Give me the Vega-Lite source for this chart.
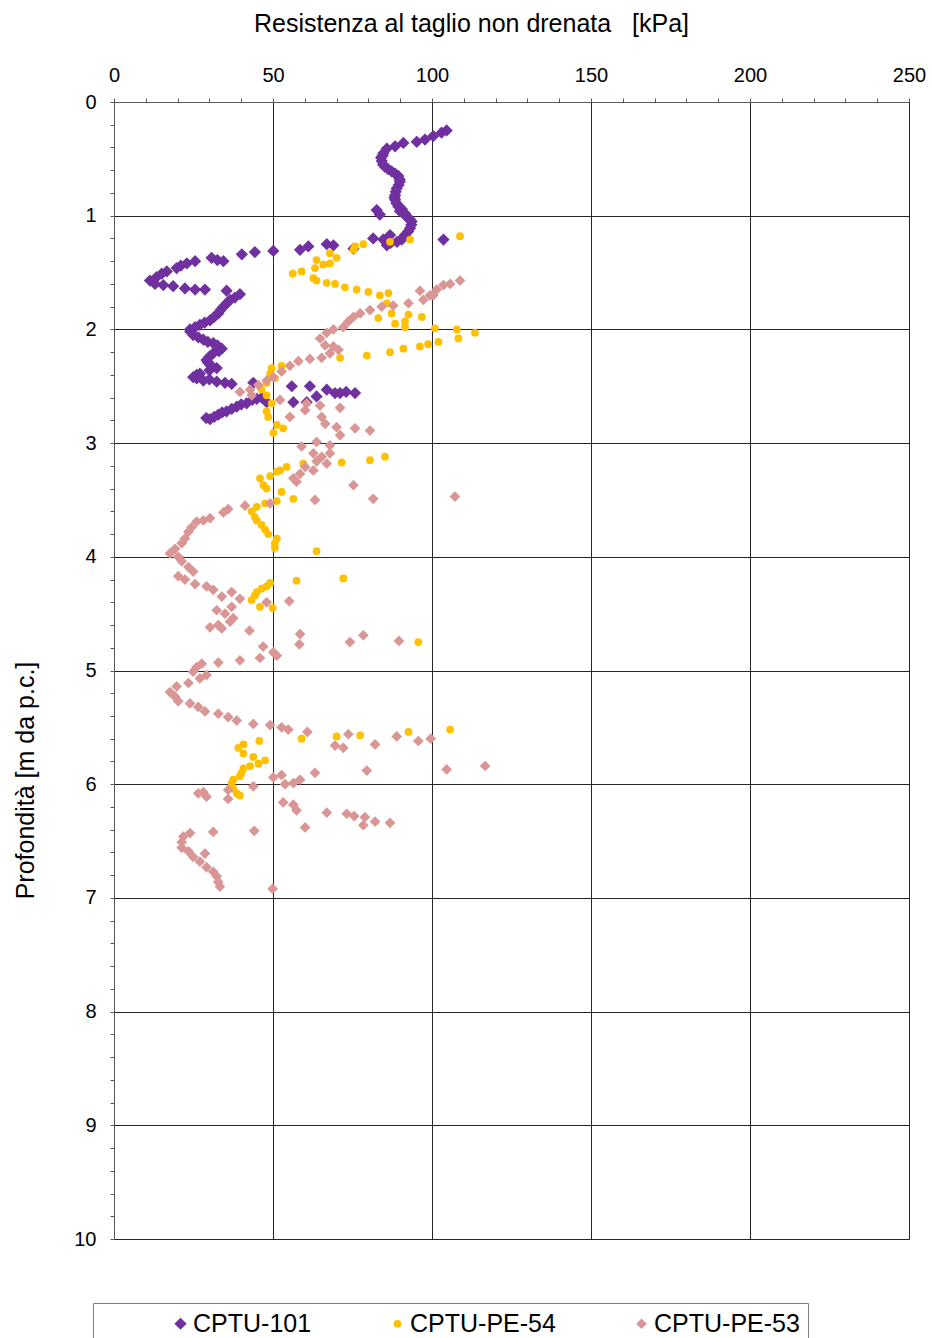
{
  "$schema": "https://vega.github.io/schema/vega-lite/v6.json",
  "width": 795,
  "height": 1137,
  "autosize": {"type": "none"},
  "padding": {"left": 114, "top": 102, "right": 23, "bottom": 99},
  "background": "white",
  "config": {
    "font": "Liberation Sans",
    "view": {"stroke": null},
    "legend": {
      "orient": "none",
      "legendX": -21,
      "legendY": 1201,
      "direction": "horizontal",
      "titleOrient": "left",
      "titlePadding": 67,
      "titleFontSize": 25,
      "padding": 8,
      "strokeColor": "#7f7f7f",
      "strokeWidth": 1,
      "labelFontSize": 25,
      "labelColor": "#000000",
      "labelOffset": 0,
      "columnPadding": 73,
      "labelLimit": 400,
      "labelExpr": "datum.value == 'CPTU-PE-53' ? 'CPTU-PE-53\u2003\u2003\u2002' : datum.label"
    }
  },
  "data": {
    "values": [
      {"s": "CPTU-101", "cu": 104.6, "z": 0.25},
      {"s": "CPTU-101", "cu": 103.0, "z": 0.27},
      {"s": "CPTU-101", "cu": 100.4, "z": 0.30},
      {"s": "CPTU-101", "cu": 97.8, "z": 0.33},
      {"s": "CPTU-101", "cu": 95.2, "z": 0.35},
      {"s": "CPTU-101", "cu": 91.0, "z": 0.36},
      {"s": "CPTU-101", "cu": 88.4, "z": 0.39},
      {"s": "CPTU-101", "cu": 85.8, "z": 0.41},
      {"s": "CPTU-101", "cu": 84.7, "z": 0.45},
      {"s": "CPTU-101", "cu": 84.5, "z": 0.47},
      {"s": "CPTU-101", "cu": 84.0, "z": 0.49},
      {"s": "CPTU-101", "cu": 84.2, "z": 0.52},
      {"s": "CPTU-101", "cu": 84.6, "z": 0.55},
      {"s": "CPTU-101", "cu": 85.2, "z": 0.57},
      {"s": "CPTU-101", "cu": 86.2, "z": 0.59},
      {"s": "CPTU-101", "cu": 87.3, "z": 0.61},
      {"s": "CPTU-101", "cu": 88.4, "z": 0.63},
      {"s": "CPTU-101", "cu": 89.4, "z": 0.65},
      {"s": "CPTU-101", "cu": 89.8, "z": 0.68},
      {"s": "CPTU-101", "cu": 89.9, "z": 0.70},
      {"s": "CPTU-101", "cu": 89.5, "z": 0.73},
      {"s": "CPTU-101", "cu": 88.9, "z": 0.76},
      {"s": "CPTU-101", "cu": 88.6, "z": 0.79},
      {"s": "CPTU-101", "cu": 88.4, "z": 0.82},
      {"s": "CPTU-101", "cu": 88.2, "z": 0.84},
      {"s": "CPTU-101", "cu": 88.4, "z": 0.86},
      {"s": "CPTU-101", "cu": 88.8, "z": 0.89},
      {"s": "CPTU-101", "cu": 89.4, "z": 0.92},
      {"s": "CPTU-101", "cu": 90.5, "z": 0.94},
      {"s": "CPTU-101", "cu": 82.6, "z": 0.95},
      {"s": "CPTU-101", "cu": 83.6, "z": 0.99},
      {"s": "CPTU-101", "cu": 89.9, "z": 0.96},
      {"s": "CPTU-101", "cu": 91.5, "z": 0.98},
      {"s": "CPTU-101", "cu": 92.0, "z": 1.01},
      {"s": "CPTU-101", "cu": 93.0, "z": 1.03},
      {"s": "CPTU-101", "cu": 93.6, "z": 1.05},
      {"s": "CPTU-101", "cu": 93.5, "z": 1.08},
      {"s": "CPTU-101", "cu": 93.1, "z": 1.11},
      {"s": "CPTU-101", "cu": 92.5, "z": 1.14},
      {"s": "CPTU-101", "cu": 91.5, "z": 1.17},
      {"s": "CPTU-101", "cu": 91.0, "z": 1.19},
      {"s": "CPTU-101", "cu": 90.5, "z": 1.21},
      {"s": "CPTU-101", "cu": 89.0, "z": 1.23},
      {"s": "CPTU-101", "cu": 87.0, "z": 1.24},
      {"s": "CPTU-101", "cu": 86.8, "z": 1.17},
      {"s": "CPTU-101", "cu": 84.7, "z": 1.21},
      {"s": "CPTU-101", "cu": 85.8, "z": 1.26},
      {"s": "CPTU-101", "cu": 81.5, "z": 1.20},
      {"s": "CPTU-101", "cu": 103.6, "z": 1.21},
      {"s": "CPTU-101", "cu": 75.3, "z": 1.29},
      {"s": "CPTU-101", "cu": 69.0, "z": 1.26},
      {"s": "CPTU-101", "cu": 66.9, "z": 1.25},
      {"s": "CPTU-101", "cu": 61.1, "z": 1.27},
      {"s": "CPTU-101", "cu": 58.5, "z": 1.30},
      {"s": "CPTU-101", "cu": 50.1, "z": 1.31},
      {"s": "CPTU-101", "cu": 44.3, "z": 1.32},
      {"s": "CPTU-101", "cu": 40.2, "z": 1.34},
      {"s": "CPTU-101", "cu": 34.4, "z": 1.40},
      {"s": "CPTU-101", "cu": 30.7, "z": 1.37},
      {"s": "CPTU-101", "cu": 32.5, "z": 1.39},
      {"s": "CPTU-101", "cu": 25.5, "z": 1.40},
      {"s": "CPTU-101", "cu": 22.9, "z": 1.42},
      {"s": "CPTU-101", "cu": 21.0, "z": 1.44},
      {"s": "CPTU-101", "cu": 19.7, "z": 1.46},
      {"s": "CPTU-101", "cu": 16.6, "z": 1.49},
      {"s": "CPTU-101", "cu": 15.0, "z": 1.51},
      {"s": "CPTU-101", "cu": 13.4, "z": 1.54},
      {"s": "CPTU-101", "cu": 11.3, "z": 1.57},
      {"s": "CPTU-101", "cu": 12.9, "z": 1.60},
      {"s": "CPTU-101", "cu": 15.5, "z": 1.61},
      {"s": "CPTU-101", "cu": 18.6, "z": 1.62},
      {"s": "CPTU-101", "cu": 22.3, "z": 1.64},
      {"s": "CPTU-101", "cu": 25.5, "z": 1.65},
      {"s": "CPTU-101", "cu": 28.6, "z": 1.65},
      {"s": "CPTU-101", "cu": 35.4, "z": 1.66},
      {"s": "CPTU-101", "cu": 39.6, "z": 1.69},
      {"s": "CPTU-101", "cu": 38.0, "z": 1.72},
      {"s": "CPTU-101", "cu": 36.5, "z": 1.74},
      {"s": "CPTU-101", "cu": 35.5, "z": 1.77},
      {"s": "CPTU-101", "cu": 34.4, "z": 1.80},
      {"s": "CPTU-101", "cu": 33.5, "z": 1.83},
      {"s": "CPTU-101", "cu": 32.8, "z": 1.86},
      {"s": "CPTU-101", "cu": 31.5, "z": 1.89},
      {"s": "CPTU-101", "cu": 30.2, "z": 1.92},
      {"s": "CPTU-101", "cu": 28.5, "z": 1.94},
      {"s": "CPTU-101", "cu": 27.0, "z": 1.96},
      {"s": "CPTU-101", "cu": 25.5, "z": 1.98},
      {"s": "CPTU-101", "cu": 23.9, "z": 2.00},
      {"s": "CPTU-101", "cu": 24.0, "z": 2.02},
      {"s": "CPTU-101", "cu": 24.9, "z": 2.05},
      {"s": "CPTU-101", "cu": 26.5, "z": 2.07},
      {"s": "CPTU-101", "cu": 28.1, "z": 2.09},
      {"s": "CPTU-101", "cu": 29.5, "z": 2.11},
      {"s": "CPTU-101", "cu": 31.2, "z": 2.12},
      {"s": "CPTU-101", "cu": 32.5, "z": 2.14},
      {"s": "CPTU-101", "cu": 33.9, "z": 2.17},
      {"s": "CPTU-101", "cu": 33.0, "z": 2.19},
      {"s": "CPTU-101", "cu": 31.2, "z": 2.21},
      {"s": "CPTU-101", "cu": 30.0, "z": 2.24},
      {"s": "CPTU-101", "cu": 29.1, "z": 2.27},
      {"s": "CPTU-101", "cu": 29.5, "z": 2.29},
      {"s": "CPTU-101", "cu": 30.2, "z": 2.31},
      {"s": "CPTU-101", "cu": 31.0, "z": 2.33},
      {"s": "CPTU-101", "cu": 32.3, "z": 2.34},
      {"s": "CPTU-101", "cu": 30.0, "z": 2.36},
      {"s": "CPTU-101", "cu": 27.0, "z": 2.39},
      {"s": "CPTU-101", "cu": 26.0, "z": 2.40},
      {"s": "CPTU-101", "cu": 24.9, "z": 2.42},
      {"s": "CPTU-101", "cu": 26.0, "z": 2.43},
      {"s": "CPTU-101", "cu": 30.0, "z": 2.44},
      {"s": "CPTU-101", "cu": 28.1, "z": 2.45},
      {"s": "CPTU-101", "cu": 32.3, "z": 2.46},
      {"s": "CPTU-101", "cu": 34.9, "z": 2.47},
      {"s": "CPTU-101", "cu": 37.0, "z": 2.48},
      {"s": "CPTU-101", "cu": 43.8, "z": 2.47},
      {"s": "CPTU-101", "cu": 55.9, "z": 2.50},
      {"s": "CPTU-101", "cu": 61.6, "z": 2.50},
      {"s": "CPTU-101", "cu": 63.7, "z": 2.59},
      {"s": "CPTU-101", "cu": 56.4, "z": 2.64},
      {"s": "CPTU-101", "cu": 60.6, "z": 2.64},
      {"s": "CPTU-101", "cu": 66.9, "z": 2.53},
      {"s": "CPTU-101", "cu": 69.5, "z": 2.56},
      {"s": "CPTU-101", "cu": 71.1, "z": 2.56},
      {"s": "CPTU-101", "cu": 73.0, "z": 2.55},
      {"s": "CPTU-101", "cu": 75.8, "z": 2.56},
      {"s": "CPTU-101", "cu": 48.0, "z": 2.64},
      {"s": "CPTU-101", "cu": 46.5, "z": 2.60},
      {"s": "CPTU-101", "cu": 44.9, "z": 2.61},
      {"s": "CPTU-101", "cu": 43.5, "z": 2.62},
      {"s": "CPTU-101", "cu": 41.7, "z": 2.65},
      {"s": "CPTU-101", "cu": 40.0, "z": 2.66},
      {"s": "CPTU-101", "cu": 38.6, "z": 2.68},
      {"s": "CPTU-101", "cu": 37.0, "z": 2.70},
      {"s": "CPTU-101", "cu": 35.4, "z": 2.72},
      {"s": "CPTU-101", "cu": 34.0, "z": 2.73},
      {"s": "CPTU-101", "cu": 32.8, "z": 2.75},
      {"s": "CPTU-101", "cu": 31.5, "z": 2.77},
      {"s": "CPTU-101", "cu": 30.2, "z": 2.79},
      {"s": "CPTU-101", "cu": 29.0, "z": 2.78},

      {"s": "CPTU-PE-54", "cu": 108.8, "z": 1.18},
      {"s": "CPTU-PE-54", "cu": 93.1, "z": 1.21},
      {"s": "CPTU-PE-54", "cu": 86.8, "z": 1.23},
      {"s": "CPTU-PE-54", "cu": 78.4, "z": 1.25},
      {"s": "CPTU-PE-54", "cu": 75.8, "z": 1.27},
      {"s": "CPTU-PE-54", "cu": 75.3, "z": 1.30},
      {"s": "CPTU-PE-54", "cu": 67.9, "z": 1.33},
      {"s": "CPTU-PE-54", "cu": 70.0, "z": 1.37},
      {"s": "CPTU-PE-54", "cu": 63.7, "z": 1.39},
      {"s": "CPTU-PE-54", "cu": 67.9, "z": 1.42},
      {"s": "CPTU-PE-54", "cu": 65.8, "z": 1.43},
      {"s": "CPTU-PE-54", "cu": 63.2, "z": 1.46},
      {"s": "CPTU-PE-54", "cu": 59.0, "z": 1.49},
      {"s": "CPTU-PE-54", "cu": 56.2, "z": 1.51},
      {"s": "CPTU-PE-54", "cu": 62.7, "z": 1.55},
      {"s": "CPTU-PE-54", "cu": 63.7, "z": 1.57},
      {"s": "CPTU-PE-54", "cu": 66.9, "z": 1.59},
      {"s": "CPTU-PE-54", "cu": 69.5, "z": 1.60},
      {"s": "CPTU-PE-54", "cu": 72.6, "z": 1.63},
      {"s": "CPTU-PE-54", "cu": 76.3, "z": 1.65},
      {"s": "CPTU-PE-54", "cu": 80.0, "z": 1.67},
      {"s": "CPTU-PE-54", "cu": 83.6, "z": 1.70},
      {"s": "CPTU-PE-54", "cu": 86.3, "z": 1.68},
      {"s": "CPTU-PE-54", "cu": 85.8, "z": 1.77},
      {"s": "CPTU-PE-54", "cu": 83.1, "z": 1.90},
      {"s": "CPTU-PE-54", "cu": 87.3, "z": 1.86},
      {"s": "CPTU-PE-54", "cu": 88.4, "z": 1.95},
      {"s": "CPTU-PE-54", "cu": 92.6, "z": 1.87},
      {"s": "CPTU-PE-54", "cu": 91.5, "z": 1.93},
      {"s": "CPTU-PE-54", "cu": 91.5, "z": 1.98},
      {"s": "CPTU-PE-54", "cu": 96.8, "z": 1.89},
      {"s": "CPTU-PE-54", "cu": 100.9, "z": 1.99},
      {"s": "CPTU-PE-54", "cu": 107.8, "z": 2.00},
      {"s": "CPTU-PE-54", "cu": 113.5, "z": 2.03},
      {"s": "CPTU-PE-54", "cu": 108.3, "z": 2.08},
      {"s": "CPTU-PE-54", "cu": 102.0, "z": 2.11},
      {"s": "CPTU-PE-54", "cu": 98.8, "z": 2.13},
      {"s": "CPTU-PE-54", "cu": 96.2, "z": 2.15},
      {"s": "CPTU-PE-54", "cu": 91.0, "z": 2.17},
      {"s": "CPTU-PE-54", "cu": 86.8, "z": 2.20},
      {"s": "CPTU-PE-54", "cu": 79.5, "z": 2.23},
      {"s": "CPTU-PE-54", "cu": 71.1, "z": 2.25},
      {"s": "CPTU-PE-54", "cu": 52.7, "z": 2.32},
      {"s": "CPTU-PE-54", "cu": 49.6, "z": 2.34},
      {"s": "CPTU-PE-54", "cu": 49.1, "z": 2.39},
      {"s": "CPTU-PE-54", "cu": 50.6, "z": 2.43},
      {"s": "CPTU-PE-54", "cu": 48.0, "z": 2.47},
      {"s": "CPTU-PE-54", "cu": 46.4, "z": 2.53},
      {"s": "CPTU-PE-54", "cu": 48.0, "z": 2.58},
      {"s": "CPTU-PE-54", "cu": 49.6, "z": 2.65},
      {"s": "CPTU-PE-54", "cu": 48.0, "z": 2.72},
      {"s": "CPTU-PE-54", "cu": 48.5, "z": 2.77},
      {"s": "CPTU-PE-54", "cu": 51.2, "z": 2.84},
      {"s": "CPTU-PE-54", "cu": 53.2, "z": 2.87},
      {"s": "CPTU-PE-54", "cu": 50.1, "z": 2.91},
      {"s": "CPTU-PE-54", "cu": 71.6, "z": 3.17},
      {"s": "CPTU-PE-54", "cu": 80.5, "z": 3.15},
      {"s": "CPTU-PE-54", "cu": 85.2, "z": 3.12},
      {"s": "CPTU-PE-54", "cu": 59.5, "z": 3.18},
      {"s": "CPTU-PE-54", "cu": 54.3, "z": 3.21},
      {"s": "CPTU-PE-54", "cu": 52.2, "z": 3.24},
      {"s": "CPTU-PE-54", "cu": 51.2, "z": 3.25},
      {"s": "CPTU-PE-54", "cu": 49.1, "z": 3.29},
      {"s": "CPTU-PE-54", "cu": 45.9, "z": 3.31},
      {"s": "CPTU-PE-54", "cu": 47.0, "z": 3.37},
      {"s": "CPTU-PE-54", "cu": 48.0, "z": 3.40},
      {"s": "CPTU-PE-54", "cu": 52.7, "z": 3.43},
      {"s": "CPTU-PE-54", "cu": 51.2, "z": 3.51},
      {"s": "CPTU-PE-54", "cu": 56.4, "z": 3.49},
      {"s": "CPTU-PE-54", "cu": 47.5, "z": 3.53},
      {"s": "CPTU-PE-54", "cu": 44.9, "z": 3.56},
      {"s": "CPTU-PE-54", "cu": 43.3, "z": 3.60},
      {"s": "CPTU-PE-54", "cu": 44.3, "z": 3.65},
      {"s": "CPTU-PE-54", "cu": 44.9, "z": 3.68},
      {"s": "CPTU-PE-54", "cu": 46.4, "z": 3.72},
      {"s": "CPTU-PE-54", "cu": 47.5, "z": 3.76},
      {"s": "CPTU-PE-54", "cu": 48.5, "z": 3.80},
      {"s": "CPTU-PE-54", "cu": 51.2, "z": 3.84},
      {"s": "CPTU-PE-54", "cu": 50.6, "z": 3.88},
      {"s": "CPTU-PE-54", "cu": 50.6, "z": 3.92},
      {"s": "CPTU-PE-54", "cu": 63.7, "z": 3.95},
      {"s": "CPTU-PE-54", "cu": 72.1, "z": 4.19},
      {"s": "CPTU-PE-54", "cu": 57.4, "z": 4.21},
      {"s": "CPTU-PE-54", "cu": 49.1, "z": 4.23},
      {"s": "CPTU-PE-54", "cu": 48.0, "z": 4.26},
      {"s": "CPTU-PE-54", "cu": 46.4, "z": 4.28},
      {"s": "CPTU-PE-54", "cu": 44.9, "z": 4.31},
      {"s": "CPTU-PE-54", "cu": 44.3, "z": 4.34},
      {"s": "CPTU-PE-54", "cu": 43.3, "z": 4.38},
      {"s": "CPTU-PE-54", "cu": 45.9, "z": 4.44},
      {"s": "CPTU-PE-54", "cu": 49.9, "z": 4.45},
      {"s": "CPTU-PE-54", "cu": 95.7, "z": 4.75},
      {"s": "CPTU-PE-54", "cu": 59.0, "z": 5.60},
      {"s": "CPTU-PE-54", "cu": 70.0, "z": 5.58},
      {"s": "CPTU-PE-54", "cu": 77.4, "z": 5.57},
      {"s": "CPTU-PE-54", "cu": 92.6, "z": 5.54},
      {"s": "CPTU-PE-54", "cu": 105.7, "z": 5.52},
      {"s": "CPTU-PE-54", "cu": 45.7, "z": 5.62},
      {"s": "CPTU-PE-54", "cu": 40.7, "z": 5.65},
      {"s": "CPTU-PE-54", "cu": 39.1, "z": 5.68},
      {"s": "CPTU-PE-54", "cu": 40.7, "z": 5.73},
      {"s": "CPTU-PE-54", "cu": 43.8, "z": 5.76},
      {"s": "CPTU-PE-54", "cu": 47.5, "z": 5.79},
      {"s": "CPTU-PE-54", "cu": 45.4, "z": 5.82},
      {"s": "CPTU-PE-54", "cu": 42.8, "z": 5.84},
      {"s": "CPTU-PE-54", "cu": 40.7, "z": 5.86},
      {"s": "CPTU-PE-54", "cu": 40.1, "z": 5.90},
      {"s": "CPTU-PE-54", "cu": 39.6, "z": 5.93},
      {"s": "CPTU-PE-54", "cu": 37.5, "z": 5.96},
      {"s": "CPTU-PE-54", "cu": 37.0, "z": 5.99},
      {"s": "CPTU-PE-54", "cu": 37.5, "z": 6.04},
      {"s": "CPTU-PE-54", "cu": 38.6, "z": 6.08},
      {"s": "CPTU-PE-54", "cu": 39.6, "z": 6.10},

      {"s": "CPTU-PE-53", "cu": 108.8, "z": 1.57},
      {"s": "CPTU-PE-53", "cu": 105.7, "z": 1.60},
      {"s": "CPTU-PE-53", "cu": 103.6, "z": 1.61},
      {"s": "CPTU-PE-53", "cu": 101.5, "z": 1.65},
      {"s": "CPTU-PE-53", "cu": 96.2, "z": 1.66},
      {"s": "CPTU-PE-53", "cu": 99.4, "z": 1.70},
      {"s": "CPTU-PE-53", "cu": 100.4, "z": 1.70},
      {"s": "CPTU-PE-53", "cu": 97.3, "z": 1.74},
      {"s": "CPTU-PE-53", "cu": 92.6, "z": 1.77},
      {"s": "CPTU-PE-53", "cu": 87.8, "z": 1.79},
      {"s": "CPTU-PE-53", "cu": 84.2, "z": 1.80},
      {"s": "CPTU-PE-53", "cu": 80.5, "z": 1.83},
      {"s": "CPTU-PE-53", "cu": 77.4, "z": 1.86},
      {"s": "CPTU-PE-53", "cu": 75.3, "z": 1.89},
      {"s": "CPTU-PE-53", "cu": 73.7, "z": 1.93},
      {"s": "CPTU-PE-53", "cu": 72.1, "z": 1.98},
      {"s": "CPTU-PE-53", "cu": 69.0, "z": 2.00},
      {"s": "CPTU-PE-53", "cu": 66.9, "z": 2.03},
      {"s": "CPTU-PE-53", "cu": 64.8, "z": 2.08},
      {"s": "CPTU-PE-53", "cu": 66.4, "z": 2.14},
      {"s": "CPTU-PE-53", "cu": 69.0, "z": 2.15},
      {"s": "CPTU-PE-53", "cu": 70.6, "z": 2.18},
      {"s": "CPTU-PE-53", "cu": 67.9, "z": 2.21},
      {"s": "CPTU-PE-53", "cu": 65.3, "z": 2.25},
      {"s": "CPTU-PE-53", "cu": 61.6, "z": 2.26},
      {"s": "CPTU-PE-53", "cu": 58.0, "z": 2.28},
      {"s": "CPTU-PE-53", "cu": 55.3, "z": 2.32},
      {"s": "CPTU-PE-53", "cu": 52.7, "z": 2.37},
      {"s": "CPTU-PE-53", "cu": 50.1, "z": 2.42},
      {"s": "CPTU-PE-53", "cu": 48.0, "z": 2.45},
      {"s": "CPTU-PE-53", "cu": 45.4, "z": 2.49},
      {"s": "CPTU-PE-53", "cu": 42.8, "z": 2.53},
      {"s": "CPTU-PE-53", "cu": 39.6, "z": 2.55},
      {"s": "CPTU-PE-53", "cu": 43.3, "z": 2.58},
      {"s": "CPTU-PE-53", "cu": 52.2, "z": 2.62},
      {"s": "CPTU-PE-53", "cu": 60.6, "z": 2.65},
      {"s": "CPTU-PE-53", "cu": 64.8, "z": 2.67},
      {"s": "CPTU-PE-53", "cu": 71.1, "z": 2.69},
      {"s": "CPTU-PE-53", "cu": 60.1, "z": 2.71},
      {"s": "CPTU-PE-53", "cu": 55.3, "z": 2.77},
      {"s": "CPTU-PE-53", "cu": 65.3, "z": 2.77},
      {"s": "CPTU-PE-53", "cu": 66.4, "z": 2.83},
      {"s": "CPTU-PE-53", "cu": 70.0, "z": 2.86},
      {"s": "CPTU-PE-53", "cu": 75.8, "z": 2.87},
      {"s": "CPTU-PE-53", "cu": 80.5, "z": 2.89},
      {"s": "CPTU-PE-53", "cu": 71.1, "z": 2.93},
      {"s": "CPTU-PE-53", "cu": 63.7, "z": 2.99},
      {"s": "CPTU-PE-53", "cu": 59.0, "z": 3.03},
      {"s": "CPTU-PE-53", "cu": 67.9, "z": 3.02},
      {"s": "CPTU-PE-53", "cu": 62.7, "z": 3.09},
      {"s": "CPTU-PE-53", "cu": 65.3, "z": 3.12},
      {"s": "CPTU-PE-53", "cu": 67.9, "z": 3.09},
      {"s": "CPTU-PE-53", "cu": 63.7, "z": 3.16},
      {"s": "CPTU-PE-53", "cu": 66.9, "z": 3.18},
      {"s": "CPTU-PE-53", "cu": 60.1, "z": 3.21},
      {"s": "CPTU-PE-53", "cu": 62.7, "z": 3.24},
      {"s": "CPTU-PE-53", "cu": 58.5, "z": 3.27},
      {"s": "CPTU-PE-53", "cu": 56.4, "z": 3.31},
      {"s": "CPTU-PE-53", "cu": 57.4, "z": 3.34},
      {"s": "CPTU-PE-53", "cu": 75.3, "z": 3.37},
      {"s": "CPTU-PE-53", "cu": 63.2, "z": 3.50},
      {"s": "CPTU-PE-53", "cu": 81.5, "z": 3.49},
      {"s": "CPTU-PE-53", "cu": 107.2, "z": 3.47},
      {"s": "CPTU-PE-53", "cu": 49.1, "z": 3.53},
      {"s": "CPTU-PE-53", "cu": 41.2, "z": 3.55},
      {"s": "CPTU-PE-53", "cu": 35.9, "z": 3.58},
      {"s": "CPTU-PE-53", "cu": 34.4, "z": 3.61},
      {"s": "CPTU-PE-53", "cu": 30.2, "z": 3.66},
      {"s": "CPTU-PE-53", "cu": 28.1, "z": 3.68},
      {"s": "CPTU-PE-53", "cu": 26.0, "z": 3.69},
      {"s": "CPTU-PE-53", "cu": 24.4, "z": 3.74},
      {"s": "CPTU-PE-53", "cu": 23.4, "z": 3.78},
      {"s": "CPTU-PE-53", "cu": 22.3, "z": 3.84},
      {"s": "CPTU-PE-53", "cu": 21.3, "z": 3.88},
      {"s": "CPTU-PE-53", "cu": 19.2, "z": 3.93},
      {"s": "CPTU-PE-53", "cu": 17.6, "z": 3.97},
      {"s": "CPTU-PE-53", "cu": 20.2, "z": 4.00},
      {"s": "CPTU-PE-53", "cu": 21.3, "z": 4.04},
      {"s": "CPTU-PE-53", "cu": 23.4, "z": 4.09},
      {"s": "CPTU-PE-53", "cu": 24.9, "z": 4.13},
      {"s": "CPTU-PE-53", "cu": 20.2, "z": 4.17},
      {"s": "CPTU-PE-53", "cu": 22.3, "z": 4.20},
      {"s": "CPTU-PE-53", "cu": 25.5, "z": 4.24},
      {"s": "CPTU-PE-53", "cu": 29.1, "z": 4.26},
      {"s": "CPTU-PE-53", "cu": 31.2, "z": 4.29},
      {"s": "CPTU-PE-53", "cu": 37.0, "z": 4.31},
      {"s": "CPTU-PE-53", "cu": 33.9, "z": 4.35},
      {"s": "CPTU-PE-53", "cu": 39.6, "z": 4.37},
      {"s": "CPTU-PE-53", "cu": 37.0, "z": 4.44},
      {"s": "CPTU-PE-53", "cu": 32.3, "z": 4.47},
      {"s": "CPTU-PE-53", "cu": 34.9, "z": 4.50},
      {"s": "CPTU-PE-53", "cu": 37.5, "z": 4.54},
      {"s": "CPTU-PE-53", "cu": 36.5, "z": 4.57},
      {"s": "CPTU-PE-53", "cu": 32.8, "z": 4.60},
      {"s": "CPTU-PE-53", "cu": 30.2, "z": 4.62},
      {"s": "CPTU-PE-53", "cu": 33.9, "z": 4.63},
      {"s": "CPTU-PE-53", "cu": 42.6, "z": 4.65},
      {"s": "CPTU-PE-53", "cu": 48.0, "z": 4.40},
      {"s": "CPTU-PE-53", "cu": 55.1, "z": 4.39},
      {"s": "CPTU-PE-53", "cu": 58.5, "z": 4.68},
      {"s": "CPTU-PE-53", "cu": 58.3, "z": 4.77},
      {"s": "CPTU-PE-53", "cu": 74.2, "z": 4.75},
      {"s": "CPTU-PE-53", "cu": 78.4, "z": 4.69},
      {"s": "CPTU-PE-53", "cu": 89.6, "z": 4.74},
      {"s": "CPTU-PE-53", "cu": 46.9, "z": 4.79},
      {"s": "CPTU-PE-53", "cu": 50.1, "z": 4.84},
      {"s": "CPTU-PE-53", "cu": 51.2, "z": 4.87},
      {"s": "CPTU-PE-53", "cu": 45.9, "z": 4.89},
      {"s": "CPTU-PE-53", "cu": 39.6, "z": 4.91},
      {"s": "CPTU-PE-53", "cu": 32.8, "z": 4.93},
      {"s": "CPTU-PE-53", "cu": 27.6, "z": 4.94},
      {"s": "CPTU-PE-53", "cu": 26.0, "z": 4.97},
      {"s": "CPTU-PE-53", "cu": 24.9, "z": 5.01},
      {"s": "CPTU-PE-53", "cu": 29.1, "z": 5.04},
      {"s": "CPTU-PE-53", "cu": 27.0, "z": 5.07},
      {"s": "CPTU-PE-53", "cu": 23.4, "z": 5.11},
      {"s": "CPTU-PE-53", "cu": 19.7, "z": 5.14},
      {"s": "CPTU-PE-53", "cu": 17.6, "z": 5.19},
      {"s": "CPTU-PE-53", "cu": 19.2, "z": 5.23},
      {"s": "CPTU-PE-53", "cu": 20.2, "z": 5.27},
      {"s": "CPTU-PE-53", "cu": 23.9, "z": 5.29},
      {"s": "CPTU-PE-53", "cu": 26.5, "z": 5.32},
      {"s": "CPTU-PE-53", "cu": 28.6, "z": 5.36},
      {"s": "CPTU-PE-53", "cu": 32.8, "z": 5.38},
      {"s": "CPTU-PE-53", "cu": 35.9, "z": 5.41},
      {"s": "CPTU-PE-53", "cu": 38.6, "z": 5.44},
      {"s": "CPTU-PE-53", "cu": 43.8, "z": 5.47},
      {"s": "CPTU-PE-53", "cu": 49.1, "z": 5.48},
      {"s": "CPTU-PE-53", "cu": 52.7, "z": 5.50},
      {"s": "CPTU-PE-53", "cu": 54.8, "z": 5.52},
      {"s": "CPTU-PE-53", "cu": 60.8, "z": 5.54},
      {"s": "CPTU-PE-53", "cu": 73.7, "z": 5.56},
      {"s": "CPTU-PE-53", "cu": 69.5, "z": 5.66},
      {"s": "CPTU-PE-53", "cu": 72.1, "z": 5.68},
      {"s": "CPTU-PE-53", "cu": 82.1, "z": 5.65},
      {"s": "CPTU-PE-53", "cu": 88.9, "z": 5.58},
      {"s": "CPTU-PE-53", "cu": 95.7, "z": 5.62},
      {"s": "CPTU-PE-53", "cu": 99.6, "z": 5.60},
      {"s": "CPTU-PE-53", "cu": 104.6, "z": 5.87},
      {"s": "CPTU-PE-53", "cu": 116.7, "z": 5.84},
      {"s": "CPTU-PE-53", "cu": 79.5, "z": 5.88},
      {"s": "CPTU-PE-53", "cu": 63.2, "z": 5.90},
      {"s": "CPTU-PE-53", "cu": 58.5, "z": 5.96},
      {"s": "CPTU-PE-53", "cu": 56.4, "z": 5.99},
      {"s": "CPTU-PE-53", "cu": 52.7, "z": 5.92},
      {"s": "CPTU-PE-53", "cu": 50.1, "z": 5.94},
      {"s": "CPTU-PE-53", "cu": 53.8, "z": 6.00},
      {"s": "CPTU-PE-53", "cu": 43.8, "z": 6.02},
      {"s": "CPTU-PE-53", "cu": 35.9, "z": 6.05},
      {"s": "CPTU-PE-53", "cu": 28.1, "z": 6.07},
      {"s": "CPTU-PE-53", "cu": 26.5, "z": 6.08},
      {"s": "CPTU-PE-53", "cu": 29.1, "z": 6.11},
      {"s": "CPTU-PE-53", "cu": 35.9, "z": 6.13},
      {"s": "CPTU-PE-53", "cu": 53.2, "z": 6.16},
      {"s": "CPTU-PE-53", "cu": 56.4, "z": 6.18},
      {"s": "CPTU-PE-53", "cu": 57.4, "z": 6.23},
      {"s": "CPTU-PE-53", "cu": 66.9, "z": 6.25},
      {"s": "CPTU-PE-53", "cu": 73.2, "z": 6.26},
      {"s": "CPTU-PE-53", "cu": 75.5, "z": 6.28},
      {"s": "CPTU-PE-53", "cu": 78.9, "z": 6.29},
      {"s": "CPTU-PE-53", "cu": 82.1, "z": 6.33},
      {"s": "CPTU-PE-53", "cu": 86.8, "z": 6.34},
      {"s": "CPTU-PE-53", "cu": 78.4, "z": 6.36},
      {"s": "CPTU-PE-53", "cu": 60.1, "z": 6.38},
      {"s": "CPTU-PE-53", "cu": 44.1, "z": 6.41},
      {"s": "CPTU-PE-53", "cu": 31.2, "z": 6.42},
      {"s": "CPTU-PE-53", "cu": 23.9, "z": 6.43},
      {"s": "CPTU-PE-53", "cu": 21.8, "z": 6.46},
      {"s": "CPTU-PE-53", "cu": 21.3, "z": 6.51},
      {"s": "CPTU-PE-53", "cu": 21.3, "z": 6.56},
      {"s": "CPTU-PE-53", "cu": 23.4, "z": 6.59},
      {"s": "CPTU-PE-53", "cu": 28.6, "z": 6.61},
      {"s": "CPTU-PE-53", "cu": 24.9, "z": 6.64},
      {"s": "CPTU-PE-53", "cu": 27.0, "z": 6.68},
      {"s": "CPTU-PE-53", "cu": 29.1, "z": 6.73},
      {"s": "CPTU-PE-53", "cu": 31.2, "z": 6.77},
      {"s": "CPTU-PE-53", "cu": 32.3, "z": 6.81},
      {"s": "CPTU-PE-53", "cu": 32.8, "z": 6.86},
      {"s": "CPTU-PE-53", "cu": 33.3, "z": 6.90},
      {"s": "CPTU-PE-53", "cu": 49.9, "z": 6.92}
    ]
  },
  "mark": {"type": "point", "filled": true, "opacity": 1, "strokeWidth": 0},
  "encoding": {
    "x": {
      "field": "cu",
      "type": "quantitative",
      "scale": {"domain": [0, 250], "nice": false, "zero": false},
      "axis": {
        "orient": "top",
        "values": [0, 10, 20, 30, 40, 50, 60, 70, 80, 90, 100, 110, 120, 130, 140, 150, 160, 170, 180, 190, 200, 210, 220, 230, 240, 250],
        "labelExpr": "datum.value % 50 === 0 ? format(datum.value, 'd') : ''",
        "labelOverlap": false,
        "labelFlush": false,
        "labelFontSize": 20,
        "labelColor": "#000000",
        "labelPadding": 13,
        "tickSize": 4,
        "tickColor": "#595959",
        "domainColor": "#595959",
        "grid": true,
        "gridColor": "#000000",
        "gridWidth": 1,
        "gridOpacity": {"condition": {"test": "datum.value % 50 === 0", "value": 0.85}, "value": 0},
        "title": "Resistenza al taglio non drenata\u00a0\u00a0\u00a0[kPa]",
        "titleFontSize": 25,
        "titleFontWeight": "normal",
        "titleColor": "#000000",
        "titleX": 357,
        "titleY": -79,
        "titleAlign": "center",
        "titleBaseline": "middle"
      }
    },
    "y": {
      "field": "z",
      "type": "quantitative",
      "scale": {"domain": [0, 10], "nice": false, "zero": false, "reverse": true},
      "axis": {
        "orient": "left",
        "values": [0, 0.2, 0.4, 0.6, 0.8, 1, 1.2, 1.4, 1.6, 1.8, 2, 2.2, 2.4, 2.6, 2.8, 3, 3.2, 3.4, 3.6, 3.8, 4, 4.2, 4.4, 4.6, 4.8, 5, 5.2, 5.4, 5.6, 5.8, 6, 6.2, 6.4, 6.6, 6.8, 7, 7.2, 7.4, 7.6, 7.8, 8, 8.2, 8.4, 8.6, 8.8, 9, 9.2, 9.4, 9.6, 9.8, 10],
        "labelExpr": "datum.value % 1 === 0 ? format(datum.value, 'd') : ''",
        "labelOverlap": false,
        "labelFlush": false,
        "labelFontSize": 20,
        "labelColor": "#000000",
        "labelPadding": 14,
        "tickSize": 4,
        "tickColor": "#595959",
        "domainColor": "#595959",
        "grid": true,
        "gridColor": "#000000",
        "gridWidth": 1,
        "gridOpacity": {"condition": {"test": "datum.value % 1 === 0", "value": 0.85}, "value": 0},
        "title": "Profondità [m da p.c.]",
        "titleFontSize": 25,
        "titleFontWeight": "normal",
        "titleColor": "#000000",
        "titleX": -89,
        "titleY": 678,
        "titleAngle": -90,
        "titleAlign": "center",
        "titleBaseline": "middle"
      }
    },
    "color": {
      "field": "s",
      "type": "nominal",
      "title": " ",
      "scale": {"domain": ["CPTU-101", "CPTU-PE-54", "CPTU-PE-53"], "range": ["#7030A0", "#FFC000", "#D99694"]}
    },
    "shape": {
      "field": "s",
      "type": "nominal",
      "title": " ",
      "scale": {"domain": ["CPTU-101", "CPTU-PE-54", "CPTU-PE-53"], "range": ["diamond", "circle", "diamond"]}
    },
    "size": {
      "field": "s",
      "type": "nominal",
      "title": " ",
      "scale": {"type": "ordinal", "domain": ["CPTU-101", "CPTU-PE-54", "CPTU-PE-53"], "range": [150, 60, 115]}
    }
  }
}
